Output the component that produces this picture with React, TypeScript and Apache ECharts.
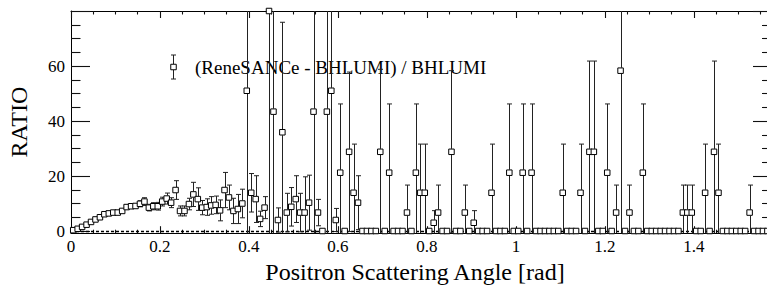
import React, { useEffect, useRef } from "react";
import * as echarts from "echarts";

// Bin width of the histogram (rad); bin centres are derived from it
const BIN_WIDTH = 0.01;

// (ReneSANCe - BHLUMI) / BHLUMI per bin
const ratio: number[] = [
  0.3, 0.8, 1.5, 2.3, 3.3, 4.2, 5.0, 6.1, 6.4, 6.7,
  6.7, 7.3, 8.7, 9.0, 9.1, 9.9, 10.7, 8.5, 9.0, 9.0,
  10.7, 11.8, 10.3, 14.9, 7.3, 7.3, 9.8, 13.3, 11.6, 8.5,
  8.7, 9.3, 9.5, 7.5, 14.9, 12.2, 7.3, 8.0, 10.0, 51.0,
  13.9, 11.6, 4.4, 8.5, 80.0, 43.4, 4.0, 35.9, 6.7, 8.8,
  11.6, 6.7, 6.7, 10.3, 43.4, 6.7, 0, 43.4, 51.0, 4.0,
  21.2, 0, 28.8, 13.9, 10.3, 0, 0, 0, 0, 28.8,
  0, 21.2, 0, 0, 0, 6.7, 0, 21.2, 13.9, 13.9,
  0, 3.0, 6.7, 0, 0, 28.8, 0, 0, 6.7, 0,
  3.0, 0, 0, 0, 13.9, 0, 0, 0, 21.2, 0,
  0, 21.2, 0, 21.2, 0, 0, 0, 0, 0, 0,
  13.9, 0, 0, 0, 13.9, 0, 28.8, 28.8, 0, 0,
  21.2, 0, 6.7, 58.3, 0, 6.7, 0, 0, 21.2, 0,
  0, 0, 0, 0, 0, 0, 0, 6.7, 6.7, 6.7,
  0, 0, 13.9, 0, 28.8, 13.9, 0, 0, 0, 0,
  0, 0, 6.7, 0, 0, 0, 0,
];

// symmetric errors per bin
const ratioErr: number[] = [
  0.3, 0.4, 0.5, 0.5, 0.6, 0.6, 0.7, 0.7, 0.8, 0.8,
  0.8, 0.9, 1.0, 1.0, 1.0, 1.1, 1.4, 1.2, 1.3, 1.4,
  1.6, 2.0, 1.8, 3.4, 1.8, 1.8, 2.1, 4.4, 4.1, 2.6,
  3.0, 3.2, 3.2, 3.8, 6.4, 4.5, 4.6, 5.3, 5.2, 60,
  7.0, 8.5, 2.8, 4.0, 90, 50, 4.4, 40, 7.0, 7.0,
  8.5, 7.0, 13, 10, 50, 4.8, 0, 50, 60, 4.2,
  25, 0, 29, 17.7, 9.8, 0, 0, 0, 0, 30,
  0, 25, 0, 0, 0, 10, 0, 25, 17.7, 17.7,
  0, 4.4, 10, 0, 0, 29.5, 0, 0, 10, 0,
  4.4, 0, 0, 0, 17.7, 0, 0, 0, 25, 0,
  0, 25, 0, 25, 0, 0, 0, 0, 0, 0,
  17.7, 0, 0, 0, 17.7, 0, 33, 33, 0, 0,
  25, 0, 10, 65, 0, 10, 0, 0, 25, 0,
  0, 0, 0, 0, 0, 0, 0, 10, 10, 10,
  0, 0, 17.7, 0, 33, 17.7, 0, 0, 0, 0,
  0, 0, 10, 0, 0, 0, 0,
];

const binCenters: number[] = ratio.map((_, i) => +(BIN_WIDTH * (i + 0.5)).toFixed(4));

const xMajorTicks = [0, 0.2, 0.4, 0.6, 0.8, 1, 1.2, 1.4];
const xMinorTicks = [0.05, 0.1, 0.15, 0.25, 0.3, 0.35, 0.45, 0.5, 0.55, 0.65, 0.7, 0.75, 0.85, 0.9, 0.95, 1.05, 1.1, 1.15, 1.25, 1.3, 1.35, 1.45, 1.5, 1.55];
const yMajorTicks = [0, 20, 40, 60, 80];
const yLabels = [0, 20, 40, 60];
const yMinorTicks = [5, 10, 15, 25, 30, 35, 45, 50, 55, 65, 70, 75];

const X_MIN = 0;
const X_MAX = Math.PI / 2;
const Y_MIN = -0.8;
const Y_MAX = 80;

const legendText = "(ReneSANCe - BHLUMI) / BHLUMI";
const xTitle = "Positron Scattering Angle [rad]";
const yTitle = "RATIO";

const FONT = "Liberation Serif";

export default function App() {
  const ref = useRef<HTMLDivElement>(null);

  useEffect(() => {
    if (!ref.current) return;
    const chart = echarts.init(ref.current, undefined, { renderer: "svg" });

    const points = binCenters.map((x, i) => [x, ratio[i]]);
    const errData = binCenters.map((x, i) => [x, ratio[i], ratioErr[i]]);

    const lineStyle = { stroke: "#222", lineWidth: 1 };
    const tickStyle = { color: "#111", width: 1.1 };
    const frameLine = { show: true, onZero: false, lineStyle: { color: "#000", width: 1 } };
    const noLine = { show: false, onZero: false };

    const xBase = (extra: any) => ({
      type: "value",
      min: X_MIN,
      max: X_MAX,
      splitLine: { show: false },
      axisLine: noLine,
      axisLabel: { show: false },
      ...extra,
    });
    const yBase = (extra: any) => ({
      type: "value",
      min: Y_MIN,
      max: Y_MAX,
      splitLine: { show: false },
      axisLine: noLine,
      axisLabel: { show: false },
      ...extra,
    });

    const option: any = {
      animation: false,
      backgroundColor: "#fff",
      textStyle: { fontFamily: FONT, color: "#000" },
      grid: { left: 71, top: 11, right: 10, bottom: 56.8, containLabel: false, outerBoundsMode: "none" },
      xAxis: [
        xBase({
          position: "bottom",
          axisLine: frameLine,
          name: xTitle,
          nameLocation: "middle",
          nameGap: 15,
          nameTextStyle: { fontFamily: FONT, fontSize: 24, color: "#000", padding: [0, 11, 0, 0] },
          axisTick: { show: true, inside: true, length: 7, customValues: xMajorTicks, lineStyle: tickStyle },
          axisLabel: { show: true, customValues: xMajorTicks, fontFamily: FONT, fontSize: 17, color: "#000", margin: 5 },
        }),
        xBase({
          position: "bottom",
          axisTick: { show: true, inside: true, length: 3.5, customValues: xMinorTicks, lineStyle: tickStyle },
        }),
        xBase({
          position: "top",
          axisLine: frameLine,
          axisTick: { show: true, inside: true, length: 7, customValues: xMajorTicks, lineStyle: tickStyle },
        }),
        xBase({
          position: "top",
          axisTick: { show: true, inside: true, length: 3.5, customValues: xMinorTicks, lineStyle: tickStyle },
        }),
      ],
      yAxis: [
        yBase({
          position: "left",
          axisLine: frameLine,
          name: yTitle,
          nameLocation: "middle",
          nameGap: 40,
          nameRotate: 90,
          nameTextStyle: { fontFamily: FONT, fontSize: 24, color: "#000" },
          axisTick: { show: true, inside: true, length: 19, customValues: yMajorTicks, lineStyle: tickStyle },
          axisLabel: { show: true, customValues: yLabels, fontFamily: FONT, fontSize: 17, color: "#000", margin: 6 },
        }),
        yBase({
          position: "left",
          axisTick: { show: true, inside: true, length: 9.5, customValues: yMinorTicks, lineStyle: tickStyle },
        }),
        yBase({
          position: "right",
          axisLine: frameLine,
          axisTick: { show: true, inside: true, length: 17, customValues: yMajorTicks, lineStyle: tickStyle },
        }),
        yBase({
          position: "right",
          axisTick: { show: true, inside: true, length: 8, customValues: yMinorTicks, lineStyle: tickStyle },
        }),
      ],
      series: [
        {
          type: "custom",
          name: "err",
          xAxisIndex: 0,
          yAxisIndex: 0,
          clip: true,
          z: 2,
          data: errData,
          encode: { x: 0, y: 1 },
          renderItem: (params: any, api: any) => {
            const x = api.value(0);
            const y = api.value(1);
            const e = api.value(2);
            if (!e) return null;
            const c = api.coord([x, y]);
            const top = api.coord([x, y + e]);
            const bot = api.coord([x, y - e]);
            const h = 3;
            const cap = 2.5;
            const cx = Math.round(c[0]) + 0.5;
            const children: any[] = [];
            if (top[1] < c[1] - h) {
              children.push({ type: "line", shape: { x1: cx, y1: top[1], x2: cx, y2: c[1] - h }, style: lineStyle });
              children.push({ type: "line", shape: { x1: cx - cap, y1: top[1], x2: cx + cap, y2: top[1] }, style: lineStyle });
            }
            if (bot[1] > c[1] + h) {
              children.push({ type: "line", shape: { x1: cx, y1: c[1] + h, x2: cx, y2: bot[1] }, style: lineStyle });
              children.push({ type: "line", shape: { x1: cx - cap, y1: bot[1], x2: cx + cap, y2: bot[1] }, style: lineStyle });
            }
            return { type: "group", children };
          },
        },
        {
          type: "scatter",
          name: legendText,
          xAxisIndex: 0,
          yAxisIndex: 0,
          z: 3,
          symbol: "rect",
          symbolSize: 5.5,
          itemStyle: { color: "#fff", borderColor: "#000", borderWidth: 1, opacity: 1 },
          data: points,
          markLine: {
            silent: true,
            symbol: "none",
            label: { show: false },
            lineStyle: { color: "#000", type: [3, 2], width: 1.3 },
            data: [{ yAxis: 0 }],
            z: 1,
          },
        },
      ],
      graphic: [
        {
          type: "group",
          children: [
            { type: "line", shape: { x1: 173.5, y1: 55, x2: 173.5, y2: 64 }, style: lineStyle },
            { type: "line", shape: { x1: 171, y1: 55, x2: 176, y2: 55 }, style: lineStyle },
            { type: "line", shape: { x1: 173.5, y1: 70, x2: 173.5, y2: 79 }, style: lineStyle },
            { type: "line", shape: { x1: 171, y1: 79, x2: 176, y2: 79 }, style: lineStyle },
            { type: "rect", shape: { x: 170.75, y: 64.25, width: 5.5, height: 5.5 }, style: { fill: "#fff", stroke: "#000", lineWidth: 1 } },
            {
              type: "text",
              x: 195,
              y: 67,
              style: { text: legendText, font: "19px " + FONT, fill: "#000", verticalAlign: "middle", align: "left" },
            },
          ],
        },
      ],
    };

    chart.setOption(option);
    return () => chart.dispose();
  }, []);

  return (
    <div style={{ position: "fixed", left: 0, top: 0, width: 767, height: 290, overflow: "hidden", background: "#fff" }}>
      <div ref={ref} style={{ width: 780, height: 290 }} />
    </div>
  );
}
